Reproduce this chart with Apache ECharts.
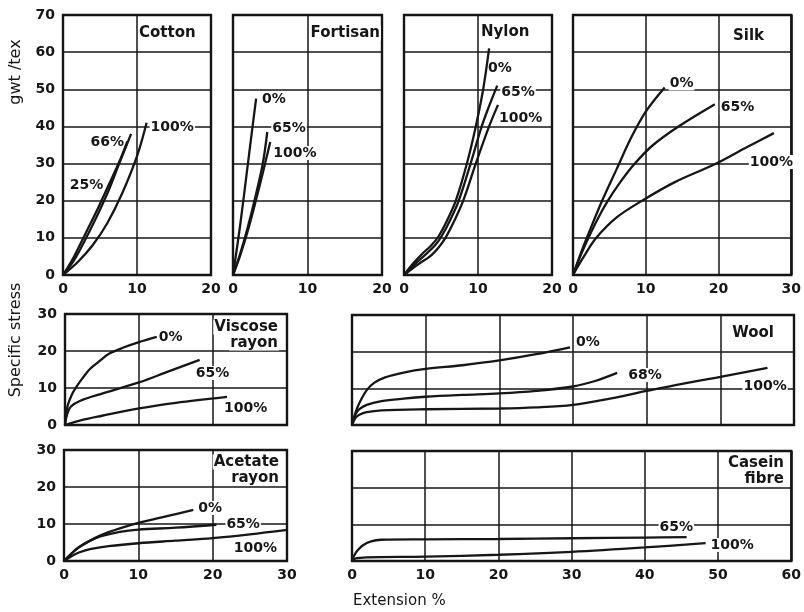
<!DOCTYPE html>
<html>
<head>
<meta charset="utf-8">
<script src="https://cdn.jsdelivr.net/npm/echarts@6/dist/echarts.min.js"></script>
<style>
  html, body { margin: 0; padding: 0; background: #fff; }
  #chart { width: 804px; height: 612px; }
</style>
</head>
<body>
<div id="chart"></div>
<script>
// stress-strain curves of fibres at different relative humidities
var FONT = "'DejaVu Sans', sans-serif";
var INK = '#161616';

// x = extension %, y = specific stress gwt/tex
var cotton25 = [[0,0],[1.5,5],[3,11],[4.5,17],[6,23.5],[7.5,30],[8.7,36]];
var cotton66 = [[0,0],[1.5,4],[3,9.5],[4.5,15.5],[6,22],[7.5,29.5],[9.2,38]];
var cotton100 = [[0,0],[2,3.5],[4,8],[6,14],[8,22],[10,32],[11.3,41]];

var fortisan0 = [[0,0],[1,14],[2,30],[3.1,47.5]];
var fortisan65 = [[0,0],[1,6],[2,13],[3,21],[4,30],[4.6,38.5]];
var fortisan100 = [[0,0],[1,5.5],[2,12],[3,19.5],[4,27.5],[5,35.8]];

var nylon0 = [[0,0],[1.2,3],[2.5,5.8],[3.7,8],[4.7,10.5],[5.9,15],[7,20],[8.5,30],[9.7,40],[10.7,50],[11.5,61]];
var nylon65 = [[0,0],[1.5,3],[3,5.7],[4.2,8],[5.1,10.5],[6.3,15],[7.4,20],[9,30],[10.5,40],[11.6,46],[12.6,51]];
var nylon100 = [[0,0],[2,3],[3.5,5],[4.7,7.5],[5.6,10],[6.9,15],[8,20],[9.7,30],[11.5,40],[12.7,45.8]];

var silk0 = [[0,0],[1,5.5],[2,10.5],[4,20],[6,28.5],[8,37],[10,44],[12.6,50.5]];
var silk65 = [[0,0],[1,5],[2,9.5],[3.5,15.5],[4.8,20],[6.5,25],[8.5,30],[11,35],[14.5,40],[19.5,46]];
var silk100 = [[0,0],[1.5,5],[3.2,10],[6,15.5],[9.5,20],[14,25],[19.7,30],[24,34.5],[27.6,38.2]];

var viscose0 = [[0,0],[0.15,3],[0.4,5.5],[1,8.5],[1.6,10.5],[2.5,13],[3.4,15.2],[4.5,17],[6,19.3],[8,21],[10,22.4],[12.4,23.8]];
var viscose65 = [[0,0],[0.3,3],[0.8,5],[2,6.5],[5,8.5],[10,11.5],[14,14.5],[18.2,17.6]];
var viscose100 = [[0,0],[2,1.2],[5,2.5],[10,4.5],[15,6],[21.9,7.6]];

var wool0 = [[0,0],[0.5,3.5],[1,6],[2,9.5],[3,11.5],[4.5,13],[7,14.3],[10,15.3],[15,16.3],[20,17.6],[25,19.3],[29.6,21.2]];
var wool68 = [[0,0],[0.5,3],[1,4.3],[2,5.5],[4,6.5],[7,7.2],[10,7.7],[15,8.2],[20,8.6],[25,9.3],[30,10.5],[33,12],[36,14.2]];
var wool100 = [[0,0],[0.5,2],[1,2.8],[2,3.5],[4,4],[10,4.3],[20,4.5],[25,4.8],[30,5.5],[35,7.2],[40,9.3],[45,11.3],[50,13.1],[56.4,15.6]];

var acetate0 = [[0,0],[1,2],[2,3.7],[3.5,5.5],[5,7],[7.5,8.8],[10,10.3],[14,12.2],[17.4,13.8]];
var acetate65 = [[0,0],[1,2],[2,3.7],[3.5,5.5],[5,6.7],[7.5,7.9],[10,8.5],[15,9],[20.5,9.8]];
var acetate100 = [[0,0],[1,1.3],[2,2.3],[3.5,3.2],[6,4],[10,4.8],[15,5.5],[20,6.2],[25,7.2],[30,8.4]];

var casein65 = [[0,0],[0.3,1.5],[0.8,3],[1.5,4.3],[2.5,5.3],[4,5.8],[10,5.9],[20,6],[30,6.2],[40,6.4],[45.7,6.5]];
var casein100 = [[0,0],[0.5,0.7],[2,1],[10,1.2],[20,1.7],[30,2.5],[40,3.7],[48.3,4.9]];

// panel layout
var panels = [
  { title: ['Cotton'], box: [63, 15, 148, 260], xMax: 20, yMax: 70, xLab: true, yLab: true, tPos: [138, 33, 'left'],
    curves: [[cotton25, '25%', -23, 44, 'right'], [cotton66, '66%', -6, 9, 'right'], [cotton100, '100%', 3, 5, 'left']] },
  { title: ['Fortisan'], box: [233, 15, 149, 260], xMax: 20, yMax: 70, xLab: true, yLab: false, tPos: [381, 33, 'right'],
    curves: [[fortisan0, '0%', 5, 1, 'left'], [fortisan65, '65%', 4, -4, 'left'], [fortisan100, '100%', 2, 11, 'left']] },
  { title: ['Nylon'], box: [404, 15, 148, 260], xMax: 20, yMax: 70, xLab: true, yLab: false, tPos: [480, 32, 'left'],
    curves: [[nylon0, '0%', -2, 20, 'left'], [nylon65, '65%', 3, 7, 'left'], [nylon100, '100%', 0, 13, 'left']] },
  { title: ['Silk'], box: [573, 15, 222, 260], xMax: 30, yMax: 70, xLab: true, yLab: false, tPos: [765, 36, 'right'],
    curves: [[silk0, '0%', 4, -4, 'left'], [silk65, '65%', 5, 3, 'left'], [silk100, '100%', -25, 29, 'left']] },
  { title: ['Viscose', 'rayon'], box: [65, 314, 222, 111], xMax: 30, yMax: 30, xLab: false, yLab: true, tPos: [279, 327, 'right'],
    curves: [[viscose0, '0%', 1, 0, 'left'], [viscose65, '65%', -5, 13, 'left'], [viscose100, '100%', -4, 11, 'left']] },
  { title: ['Wool'], box: [352, 315, 442, 110], xMax: 60, yMax: 30, xLab: false, yLab: false, tPos: [775, 333, 'right'],
    curves: [[wool0, '0%', 5, -5, 'left'], [wool68, '68%', 10, 2, 'left'], [wool100, '100%', -25, 19, 'left']] },
  { title: ['Acetate', 'rayon'], box: [64, 450, 223, 111], xMax: 30, yMax: 30, xLab: true, yLab: true, tPos: [280, 462, 'right'],
    curves: [[acetate0, '0%', 4, -2, 'left'], [acetate65, '65%', 9, 0, 'left'], [acetate100, '100%', -9, 18, 'right']] },
  { title: ['Casein', 'fibre'], box: [352, 451, 441, 110], xMax: 60, yMax: 30, xLab: true, yLab: false, tPos: [785, 463, 'right'],
    curves: [[casein65, '65%', -28, -10, 'left'], [casein100, '100%', 4, 2, 'left']] }
];

var chart = echarts.init(document.getElementById('chart'));

var grids = [], xAxes = [], yAxes = [], series = [];
panels.forEach(function (p, i) {
  grids.push({ left: p.box[0], top: p.box[1], width: p.box[2], height: p.box[3],
    show: true, borderColor: INK, borderWidth: 2.4, backgroundColor: 'transparent' });
  xAxes.push({ type: 'value', gridIndex: i, min: 0, max: p.xMax, interval: 10,
    axisLine: { show: false }, axisTick: { show: false },
    splitLine: { show: true, lineStyle: { color: INK, width: 1.5 } },
    axisLabel: { show: p.xLab, margin: 7, color: INK, fontFamily: FONT, fontSize: 14, fontWeight: 'bold' } });
  yAxes.push({ type: 'value', gridIndex: i, min: 0, max: p.yMax, interval: 10,
    axisLine: { show: false }, axisTick: { show: false },
    splitLine: { show: true, lineStyle: { color: INK, width: 1.5 } },
    axisLabel: { show: p.yLab, margin: 8, color: INK, fontFamily: FONT, fontSize: 14, fontWeight: 'bold' } });
  p.curves.forEach(function (c) {
    series.push({ type: 'line', xAxisIndex: i, yAxisIndex: i, data: c[0], smooth: 0.35,
      symbol: 'none', lineStyle: { color: INK, width: 2.3 }, z: 3, silent: true });
  });
});

chart.setOption({
  animation: false,
  backgroundColor: '#fff',
  grid: grids, xAxis: xAxes, yAxis: yAxes, series: series
});

var graphics = [];
function txt(x, y, s, align, size, rot, weight) {
  graphics.push({ type: 'text', x: x, y: y, rotation: rot || 0, z: 1,
    style: { text: s, fill: INK, font: (weight || 'bold') + ' ' + (size || 14) + 'px ' + FONT,
      align: align, verticalAlign: 'middle', backgroundColor: '#fff', padding: [0, 1] } });
}

panels.forEach(function (p, i) {
  p.title.forEach(function (t, k) {
    txt(p.tPos[0], p.tPos[1] + k * 16, t, p.tPos[2], 15);
  });
  p.curves.forEach(function (c) {
    var end = c[0][c[0].length - 1];
    var px = chart.convertToPixel({ gridIndex: i }, end);
    txt(px[0] + c[2], px[1] + c[3], c[1], c[4], 14);
  });
});

txt(16, 72, 'gwt /tex', 'center', 16, Math.PI / 2, 'normal');
txt(16, 340, 'Specific stress', 'center', 16, Math.PI / 2, 'normal');
txt(352, 601, 'Extension %', 'left', 15, 0, 'normal');

chart.setOption({ graphic: graphics });
</script>
</body>
</html>
